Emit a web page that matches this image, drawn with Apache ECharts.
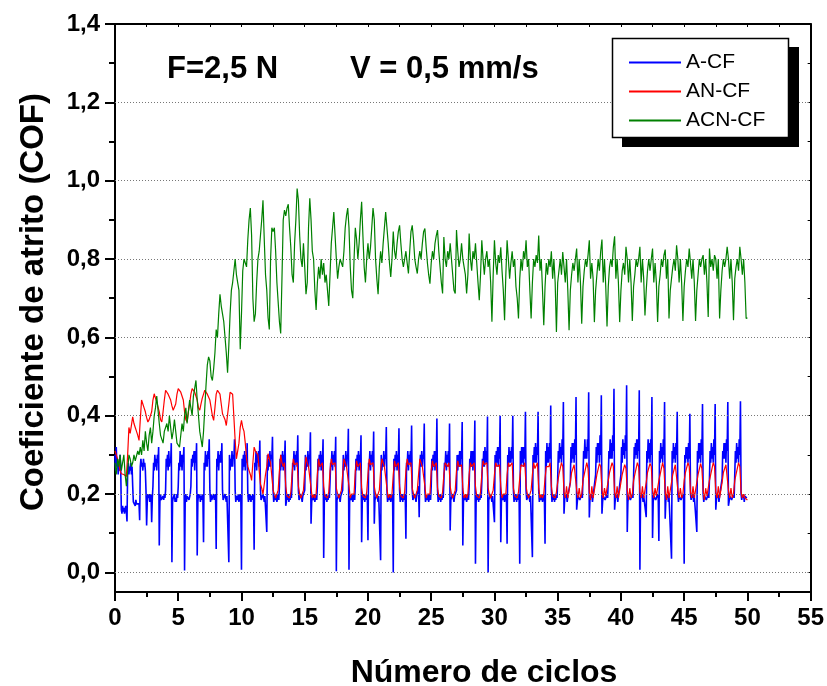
<!DOCTYPE html>
<html><head><meta charset="utf-8">
<script src="https://cdn.jsdelivr.net/npm/echarts@6/dist/echarts.min.js"></script>
<style>html,body{margin:0;padding:0;background:#fff}#c{width:827px;height:686px}</style>
</head><body><div id="c"></div>
<script>
const seriesNames = ['A-CF', 'AN-CF', 'ACN-CF'];
const yMajorTicks = [0, 0.2, 0.4, 0.6, 0.8, 1.0, 1.2, 1.4];
const yMinorTicks = [0.1, 0.3, 0.5, 0.7, 0.9, 1.1, 1.3];
const yAllTicks = [0, 0.1, 0.2, 0.3, 0.4, 0.5, 0.6, 0.7, 0.8, 0.9, 1.0, 1.1, 1.2, 1.3, 1.4];
const gridValues = [0, 0.2, 0.4, 0.6, 0.8, 1.0, 1.2];
const blueStep = 0.05;   // cycles between samples
const redStep = 0.1;
const greenStep = 0.1;

// A-CF (one row = one cycle, 20 samples)
const blueCOF = [
0.30,0.26,0.32,0.27,0.29,0.25,0.28,0.26,0.30,0.27,0.16,0.15,0.17,0.155,0.165,0.15,0.16,0.17,0.155,0.13,
0.26,0.28,0.25,0.27,0.26,0.28,0.25,0.27,0.22,0.18,0.175,0.18,0.17,0.185,0.175,0.18,0.17,0.18,0.175,0.133,
0.27,0.29,0.27,0.28,0.26,0.29,0.27,0.28,0.26,0.21,0.12,0.18,0.20,0.19,0.20,0.18,0.19,0.20,0.128,0.19,
0.22,0.28,0.26,0.30,0.27,0.29,0.26,0.30,0.28,0.32,0.069,0.18,0.20,0.185,0.19,0.18,0.195,0.185,0.20,0.19,
0.21,0.29,0.27,0.30,0.26,0.31,0.27,0.29,0.28,0.33,0.026,0.18,0.19,0.185,0.20,0.18,0.19,0.18,0.20,0.19,
0.22,0.28,0.26,0.31,0.27,0.30,0.26,0.30,0.29,0.32,0.005,0.185,0.20,0.18,0.195,0.19,0.20,0.185,0.19,0.20,
0.22,0.29,0.27,0.30,0.28,0.31,0.26,0.31,0.28,0.33,0.043,0.18,0.20,0.19,0.20,0.18,0.195,0.185,0.20,0.19,
0.077,0.28,0.26,0.31,0.27,0.30,0.27,0.31,0.29,0.34,0.21,0.18,0.20,0.185,0.19,0.18,0.20,0.185,0.19,0.20,
0.06,0.29,0.27,0.31,0.26,0.30,0.28,0.31,0.28,0.33,0.21,0.185,0.19,0.18,0.20,0.19,0.18,0.195,0.19,0.20,
0.026,0.30,0.26,0.29,0.27,0.31,0.27,0.30,0.29,0.34,0.21,0.18,0.195,0.19,0.185,0.20,0.18,0.19,0.20,0.185,
0.007,0.29,0.26,0.30,0.27,0.31,0.26,0.30,0.28,0.33,0.20,0.18,0.20,0.185,0.20,0.18,0.195,0.185,0.20,0.19,
0.058,0.28,0.27,0.31,0.26,0.30,0.28,0.31,0.27,0.337,0.21,0.185,0.19,0.18,0.20,0.19,0.18,0.195,0.19,0.20,
0.103,0.30,0.26,0.29,0.27,0.31,0.27,0.30,0.29,0.346,0.21,0.18,0.195,0.19,0.185,0.20,0.18,0.19,0.20,0.185,
0.22,0.29,0.26,0.30,0.27,0.31,0.26,0.30,0.28,0.337,0.17,0.18,0.20,0.185,0.20,0.18,0.195,0.185,0.20,0.19,
0.23,0.28,0.27,0.31,0.26,0.30,0.28,0.31,0.27,0.35,0.21,0.185,0.19,0.18,0.20,0.19,0.18,0.195,0.19,0.20,
0.21,0.30,0.26,0.29,0.27,0.31,0.27,0.30,0.29,0.358,0.124,0.18,0.195,0.19,0.185,0.20,0.18,0.19,0.20,0.185,
0.22,0.29,0.26,0.30,0.27,0.31,0.26,0.30,0.28,0.34,0.037,0.18,0.20,0.185,0.20,0.18,0.195,0.185,0.20,0.19,
0.23,0.28,0.27,0.31,0.26,0.30,0.28,0.31,0.27,0.346,0.003,0.185,0.19,0.18,0.20,0.19,0.18,0.195,0.19,0.20,
0.21,0.30,0.26,0.29,0.27,0.31,0.27,0.30,0.29,0.367,0.007,0.18,0.195,0.19,0.185,0.20,0.18,0.19,0.20,0.185,
0.22,0.29,0.26,0.30,0.27,0.31,0.26,0.30,0.28,0.35,0.077,0.18,0.20,0.185,0.20,0.18,0.195,0.185,0.20,0.19,
0.082,0.28,0.27,0.31,0.26,0.30,0.28,0.31,0.27,0.36,0.124,0.185,0.19,0.18,0.20,0.19,0.18,0.195,0.19,0.20,
0.031,0.30,0.26,0.29,0.27,0.31,0.27,0.30,0.29,0.371,0.21,0.18,0.195,0.19,0.185,0.20,0.18,0.19,0.20,0.185,
0.0,0.29,0.26,0.30,0.27,0.31,0.26,0.30,0.28,0.368,0.21,0.18,0.20,0.185,0.20,0.18,0.195,0.185,0.20,0.19,
0.086,0.28,0.27,0.31,0.26,0.30,0.28,0.31,0.27,0.375,0.21,0.185,0.19,0.18,0.20,0.19,0.18,0.195,0.19,0.20,
0.22,0.141,0.27,0.30,0.27,0.31,0.27,0.30,0.29,0.38,0.21,0.18,0.195,0.19,0.185,0.20,0.18,0.19,0.20,0.185,
0.22,0.29,0.26,0.30,0.27,0.31,0.26,0.31,0.28,0.393,0.21,0.18,0.20,0.185,0.20,0.18,0.195,0.185,0.20,0.19,
0.23,0.28,0.27,0.31,0.26,0.30,0.28,0.31,0.27,0.38,0.107,0.185,0.19,0.18,0.20,0.19,0.18,0.195,0.19,0.20,
0.21,0.30,0.26,0.30,0.27,0.31,0.27,0.31,0.29,0.384,0.069,0.18,0.195,0.19,0.185,0.20,0.18,0.19,0.20,0.185,
0.22,0.29,0.27,0.31,0.27,0.31,0.26,0.31,0.28,0.388,0.022,0.18,0.20,0.185,0.20,0.18,0.195,0.185,0.20,0.19,
0.23,0.29,0.27,0.31,0.27,0.32,0.28,0.31,0.28,0.398,0.0,0.185,0.19,0.18,0.20,0.19,0.18,0.195,0.19,0.20,
0.128,0.30,0.27,0.31,0.28,0.32,0.27,0.32,0.29,0.40,0.077,0.18,0.195,0.19,0.185,0.20,0.18,0.19,0.20,0.185,
0.073,0.30,0.27,0.32,0.28,0.31,0.28,0.32,0.29,0.40,0.21,0.18,0.20,0.185,0.20,0.18,0.195,0.185,0.20,0.19,
0.022,0.31,0.27,0.32,0.28,0.32,0.27,0.32,0.29,0.41,0.21,0.185,0.19,0.18,0.20,0.19,0.18,0.195,0.19,0.20,
0.039,0.30,0.28,0.32,0.28,0.33,0.28,0.32,0.30,0.41,0.21,0.18,0.195,0.19,0.185,0.20,0.18,0.19,0.20,0.185,
0.073,0.31,0.27,0.33,0.28,0.32,0.28,0.33,0.29,0.426,0.21,0.18,0.20,0.185,0.20,0.18,0.195,0.185,0.20,0.19,
0.24,0.31,0.28,0.33,0.29,0.32,0.28,0.34,0.30,0.435,0.15,0.185,0.20,0.19,0.20,0.18,0.195,0.19,0.20,0.19,
0.23,0.32,0.28,0.33,0.29,0.33,0.28,0.34,0.30,0.448,0.16,0.18,0.195,0.19,0.20,0.185,0.19,0.18,0.20,0.19,
0.24,0.31,0.29,0.34,0.29,0.32,0.29,0.34,0.31,0.46,0.14,0.185,0.20,0.19,0.20,0.18,0.195,0.19,0.20,0.19,
0.25,0.32,0.28,0.33,0.30,0.33,0.28,0.35,0.30,0.452,0.15,0.18,0.195,0.19,0.20,0.185,0.19,0.18,0.20,0.19,
0.24,0.31,0.29,0.34,0.29,0.33,0.29,0.35,0.31,0.469,0.16,0.185,0.20,0.19,0.20,0.18,0.195,0.19,0.20,0.19,
0.25,0.32,0.28,0.34,0.30,0.33,0.29,0.35,0.31,0.478,0.103,0.18,0.195,0.19,0.20,0.185,0.19,0.18,0.20,0.19,
0.24,0.32,0.29,0.33,0.30,0.34,0.29,0.34,0.31,0.465,0.007,0.185,0.20,0.19,0.20,0.18,0.195,0.19,0.20,0.19,
0.141,0.31,0.28,0.34,0.29,0.33,0.28,0.34,0.30,0.448,0.088,0.18,0.195,0.19,0.20,0.185,0.19,0.18,0.20,0.19,
0.08,0.31,0.28,0.33,0.29,0.32,0.28,0.34,0.30,0.435,0.137,0.185,0.20,0.19,0.20,0.18,0.195,0.19,0.20,0.19,
0.035,0.31,0.28,0.33,0.29,0.32,0.28,0.33,0.30,0.41,0.20,0.18,0.195,0.19,0.20,0.185,0.19,0.18,0.20,0.19,
0.022,0.30,0.28,0.32,0.29,0.32,0.28,0.33,0.29,0.405,0.20,0.185,0.20,0.19,0.20,0.18,0.195,0.19,0.20,0.19,
0.103,0.31,0.28,0.33,0.29,0.33,0.28,0.34,0.30,0.43,0.20,0.18,0.195,0.19,0.20,0.185,0.19,0.18,0.20,0.19,
0.24,0.31,0.28,0.33,0.29,0.32,0.28,0.34,0.30,0.43,0.16,0.185,0.20,0.19,0.20,0.18,0.195,0.19,0.20,0.19,
0.24,0.31,0.29,0.33,0.29,0.33,0.28,0.34,0.31,0.435,0.17,0.18,0.195,0.19,0.20,0.185,0.19,0.18,0.20,0.19,
0.25,0.31,0.28,0.33,0.29,0.32,0.28,0.34,0.30,0.437,0.20,0.185,0.20,0.19,0.20,0.18,0.195,0.19,0.20,0.19,
0.19
];

// AN-CF (one row = one cycle, 10 samples)
const redCOF = [
0.31,0.30,0.29,0.28,0.26,0.252,0.25,0.25,0.245,0.245,
0.30,0.37,0.355,0.36,0.397,0.38,0.37,0.36,0.35,0.337,
0.39,0.44,0.43,0.42,0.41,0.395,0.384,0.39,0.395,0.41,
0.44,0.456,0.445,0.435,0.43,0.41,0.39,0.384,0.41,0.44,
0.465,0.46,0.455,0.455,0.44,0.425,0.414,0.414,0.43,0.455,
0.469,0.469,0.46,0.455,0.44,0.41,0.39,0.384,0.41,0.43,
0.455,0.469,0.465,0.46,0.46,0.44,0.42,0.414,0.43,0.445,
0.455,0.465,0.46,0.455,0.45,0.44,0.42,0.40,0.388,0.42,
0.455,0.465,0.46,0.455,0.43,0.405,0.40,0.39,0.375,0.37,
0.43,0.46,0.46,0.455,0.455,0.337,0.29,0.286,0.33,0.37,
0.388,0.37,0.36,0.33,0.29,0.27,0.26,0.25,0.235,0.28,
0.32,0.31,0.305,0.30,0.26,0.225,0.215,0.20,0.197,0.25,
0.27,0.303,0.29,0.28,0.275,0.21,0.20,0.19,0.20,0.21,
0.26,0.30,0.28,0.27,0.28,0.22,0.195,0.20,0.19,0.205,
0.25,0.29,0.275,0.27,0.28,0.22,0.20,0.19,0.195,0.21,
0.26,0.295,0.28,0.27,0.275,0.215,0.19,0.20,0.19,0.20,
0.25,0.29,0.27,0.275,0.28,0.22,0.195,0.20,0.19,0.205,
0.26,0.29,0.275,0.27,0.28,0.215,0.20,0.19,0.20,0.21,
0.25,0.29,0.28,0.27,0.275,0.22,0.19,0.20,0.195,0.20,
0.26,0.285,0.27,0.275,0.28,0.215,0.195,0.20,0.19,0.205,
0.25,0.29,0.275,0.27,0.28,0.22,0.20,0.19,0.20,0.21,
0.26,0.29,0.28,0.27,0.275,0.215,0.19,0.20,0.19,0.20,
0.25,0.285,0.27,0.275,0.28,0.22,0.195,0.20,0.19,0.205,
0.26,0.29,0.275,0.27,0.28,0.215,0.20,0.19,0.20,0.21,
0.25,0.29,0.28,0.27,0.275,0.22,0.19,0.20,0.195,0.20,
0.26,0.285,0.27,0.275,0.28,0.215,0.195,0.20,0.19,0.205,
0.25,0.28,0.275,0.27,0.28,0.22,0.20,0.19,0.20,0.21,
0.26,0.285,0.27,0.27,0.275,0.215,0.19,0.20,0.19,0.20,
0.25,0.28,0.27,0.275,0.28,0.22,0.195,0.20,0.19,0.205,
0.25,0.285,0.275,0.27,0.28,0.215,0.20,0.19,0.20,0.21,
0.25,0.28,0.27,0.27,0.275,0.22,0.19,0.20,0.195,0.20,
0.25,0.28,0.27,0.275,0.28,0.215,0.195,0.20,0.19,0.205,
0.24,0.275,0.27,0.27,0.28,0.22,0.20,0.19,0.20,0.21,
0.25,0.28,0.265,0.27,0.28,0.215,0.19,0.20,0.19,0.20,
0.24,0.27,0.265,0.27,0.28,0.22,0.195,0.20,0.19,0.205,
0.23,0.25,0.255,0.28,0.27,0.205,0.19,0.22,0.19,0.195,
0.23,0.255,0.25,0.275,0.27,0.21,0.19,0.215,0.19,0.20,
0.235,0.25,0.255,0.28,0.265,0.205,0.185,0.22,0.19,0.195,
0.23,0.25,0.25,0.278,0.27,0.21,0.19,0.215,0.195,0.20,
0.235,0.255,0.255,0.28,0.27,0.205,0.19,0.22,0.19,0.195,
0.23,0.25,0.25,0.275,0.265,0.21,0.185,0.215,0.19,0.20,
0.235,0.25,0.255,0.28,0.27,0.205,0.19,0.22,0.19,0.195,
0.23,0.255,0.25,0.278,0.27,0.21,0.19,0.215,0.195,0.20,
0.235,0.25,0.255,0.28,0.265,0.205,0.185,0.22,0.19,0.195,
0.23,0.25,0.25,0.275,0.27,0.21,0.19,0.215,0.19,0.20,
0.235,0.255,0.255,0.28,0.27,0.205,0.19,0.22,0.19,0.195,
0.23,0.25,0.25,0.278,0.265,0.21,0.185,0.215,0.195,0.20,
0.235,0.25,0.255,0.28,0.27,0.205,0.19,0.22,0.19,0.195,
0.23,0.255,0.25,0.275,0.27,0.21,0.19,0.215,0.19,0.20,
0.235,0.25,0.255,0.28,0.27,0.205,0.19,0.20,0.19,0.19,
0.185
];

// ACN-CF (one row = one cycle, 10 samples)
const greenCOF = [
0.28,0.25,0.29,0.27,0.30,0.26,0.28,0.30,0.25,0.22,
0.26,0.30,0.29,0.27,0.28,0.30,0.285,0.29,0.31,0.30,
0.32,0.30,0.337,0.31,0.36,0.33,0.31,0.35,0.37,0.33,
0.36,0.40,0.42,0.45,0.448,0.38,0.35,0.346,0.33,0.36,
0.37,0.38,0.36,0.40,0.37,0.34,0.36,0.39,0.36,0.33,
0.33,0.32,0.35,0.38,0.36,0.40,0.42,0.38,0.41,0.44,
0.42,0.40,0.45,0.47,0.49,0.44,0.40,0.36,0.34,0.32,
0.36,0.42,0.48,0.53,0.55,0.54,0.50,0.49,0.52,0.56,
0.62,0.60,0.66,0.71,0.68,0.66,0.64,0.60,0.56,0.51,
0.58,0.66,0.72,0.74,0.77,0.80,0.76,0.74,0.72,0.57,
0.66,0.77,0.80,0.80,0.78,0.85,0.90,0.93,0.86,0.70,
0.64,0.66,0.74,0.80,0.82,0.86,0.90,0.95,0.85,0.76,
0.72,0.65,0.62,0.80,0.88,0.87,0.88,0.82,0.74,0.69,
0.64,0.61,0.75,0.90,0.925,0.91,0.93,0.94,0.88,0.83,
0.76,0.74,0.84,0.90,0.98,0.95,0.86,0.80,0.78,0.84,
0.78,0.71,0.74,0.88,0.955,0.90,0.82,0.80,0.72,0.67,
0.74,0.78,0.75,0.80,0.76,0.79,0.74,0.76,0.72,0.68,
0.76,0.84,0.88,0.92,0.925,0.80,0.75,0.78,0.80,0.80,
0.78,0.82,0.88,0.91,0.93,0.88,0.78,0.72,0.70,0.80,
0.88,0.85,0.80,0.84,0.90,0.946,0.86,0.78,0.74,0.80,
0.84,0.80,0.83,0.88,0.93,0.90,0.80,0.75,0.71,0.78,
0.82,0.79,0.84,0.88,0.92,0.925,0.84,0.79,0.754,0.80,
0.87,0.82,0.80,0.84,0.87,0.886,0.84,0.80,0.78,0.80,
0.82,0.79,0.763,0.82,0.87,0.886,0.85,0.80,0.78,0.763,
0.80,0.82,0.80,0.84,0.87,0.878,0.83,0.79,0.76,0.737,
0.79,0.82,0.80,0.84,0.86,0.874,0.82,0.78,0.74,0.712,
0.856,0.80,0.78,0.82,0.80,0.84,0.80,0.76,0.72,0.712,
0.874,0.82,0.78,0.80,0.84,0.80,0.78,0.76,0.712,0.76,
0.865,0.80,0.77,0.82,0.80,0.84,0.79,0.74,0.695,0.76,
0.848,0.80,0.76,0.80,0.82,0.78,0.80,0.74,0.64,0.76,
0.848,0.79,0.76,0.81,0.79,0.83,0.77,0.72,0.644,0.76,
0.848,0.80,0.75,0.79,0.82,0.78,0.80,0.73,0.70,0.648,
0.75,0.80,0.77,0.82,0.80,0.848,0.78,0.80,0.72,0.648,
0.74,0.80,0.78,0.81,0.79,0.86,0.77,0.80,0.72,0.631,
0.73,0.79,0.76,0.80,0.78,0.82,0.75,0.80,0.74,0.614,
0.74,0.77,0.80,0.76,0.818,0.78,0.74,0.80,0.72,0.618,
0.72,0.76,0.79,0.77,0.80,0.827,0.74,0.80,0.74,0.635,
0.73,0.77,0.80,0.78,0.81,0.848,0.75,0.79,0.75,0.639,
0.72,0.76,0.80,0.77,0.82,0.85,0.74,0.80,0.73,0.628,
0.73,0.78,0.80,0.78,0.83,0.858,0.75,0.80,0.74,0.639,
0.72,0.77,0.79,0.76,0.831,0.80,0.74,0.80,0.74,0.642,
0.73,0.76,0.80,0.78,0.80,0.831,0.74,0.80,0.75,0.656,
0.72,0.77,0.80,0.77,0.80,0.827,0.74,0.79,0.74,0.639,
0.73,0.76,0.80,0.78,0.81,0.824,0.75,0.80,0.648,0.72,
0.75,0.78,0.80,0.77,0.835,0.80,0.74,0.80,0.74,0.642,
0.73,0.77,0.80,0.78,0.827,0.79,0.75,0.80,0.74,0.642,
0.72,0.76,0.80,0.78,0.80,0.81,0.76,0.80,0.74,0.652,
0.827,0.78,0.80,0.77,0.81,0.80,0.75,0.80,0.648,0.72,
0.77,0.80,0.78,0.80,0.831,0.80,0.75,0.80,0.74,0.644,
0.75,0.78,0.80,0.77,0.831,0.80,0.76,0.80,0.74,0.648,
0.65
];

function toPoints(values, step) {
  return values.map((v, i) => [+(i * step).toFixed(3), v]);
}
const FONT = '"Liberation Sans", Arial, Helvetica, sans-serif';
const fmt = v => (Math.round(v * 10) / 10).toFixed(1).replace('.', ',');

const chart = echarts.init(document.getElementById('c'), null, {renderer: 'canvas'});
chart.setOption({
  animation: false,
  backgroundColor: '#fff',
  grid: {left: 115, top: 24, width: 700, height: 568, containLabel: false},
  xAxis: [
    {type: 'value', position: 'bottom', min: 0, max: 55, interval: 5,
     axisLine: {show: true, onZero: false, lineStyle: {color: '#000', width: 2}},
     axisTick: {show: true, inside: false, length: 9, lineStyle: {color: '#000', width: 2}},
     minorTick: {show: true, splitNumber: 2, length: 5, lineStyle: {color: '#000', width: 2}},
     axisLabel: {show: true, margin: 14, color: '#000', fontSize: 24, fontWeight: 'bold', fontFamily: FONT},
     splitLine: {show: false}},
    {type: 'value', position: 'top', min: 0, max: 55, interval: 2.5,
     axisLine: {show: true, onZero: false, lineStyle: {color: '#000', width: 2}},
     axisTick: {show: true, inside: true, length: 3, lineStyle: {color: '#000', width: 1}},
     axisLabel: {show: false}, splitLine: {show: false}}
  ],
  yAxis: [
    {type: 'value', position: 'left', min: -0.05, max: 1.4,
     axisLine: {show: true, onZero: false, lineStyle: {color: '#000', width: 2}},
     axisTick: {show: true, inside: false, length: 10, customValues: yMajorTicks, lineStyle: {color: '#000', width: 2}},
     axisLabel: {show: true, customValues: yMajorTicks, formatter: fmt, margin: 15, color: '#000', fontSize: 24, fontWeight: 'bold', fontFamily: FONT},
     splitLine: {show: false}},
    {type: 'value', position: 'left', offset: 0, min: -0.05, max: 1.4,
     axisLine: {show: false},
     axisTick: {show: true, inside: false, length: 6, customValues: yMinorTicks, lineStyle: {color: '#000', width: 2}},
     axisLabel: {show: false}, splitLine: {show: false}},
    {type: 'value', position: 'right', offset: 0, min: -0.05, max: 1.4,
     axisLine: {show: true, onZero: false, lineStyle: {color: '#000', width: 2}},
     axisTick: {show: true, inside: true, length: 3, customValues: yAllTicks, lineStyle: {color: '#000', width: 1}},
     axisLabel: {show: false}, splitLine: {show: false}}
  ],
  legend: {
    show: true, data: seriesNames, orient: 'vertical', left: 624, top: 47,
    icon: 'rect', itemWidth: 52, itemHeight: 2, itemGap: 8,
    textStyle: {color: '#000', fontSize: 21, fontFamily: FONT},
    selectedMode: false, z: 10
  },
  graphic: [
    {type: 'rect', z: 8, shape: {x: 622, y: 47, width: 177, height: 100}, style: {fill: '#000'}},
    {type: 'rect', z: 9, shape: {x: 612.5, y: 38.5, width: 176, height: 99}, style: {fill: '#fff', stroke: '#000', lineWidth: 1.5}},
    {type: 'text', z: 9, x: 167, y: 69, style: {text: 'F=2,5 N', fill: '#000', font: 'bold 31px ' + FONT, textVerticalAlign: 'middle'}},
    {type: 'text', z: 9, x: 350, y: 69, style: {text: 'V = 0,5 mm/s', fill: '#000', font: 'bold 31px ' + FONT, textVerticalAlign: 'middle'}},
    {type: 'text', z: 9, x: 484, y: 673, style: {text: 'Número de ciclos', fill: '#000', font: 'bold 32px ' + FONT, textAlign: 'center', textVerticalAlign: 'middle'}},
    {type: 'text', z: 9, x: 34, y: 302, rotation: Math.PI / 2, style: {text: 'Coeficiente de atrito (COF)', fill: '#000', font: 'bold 33px ' + FONT, textAlign: 'center', textVerticalAlign: 'middle'}}
  ],
  series: [
    {name: 'grid', type: 'line', data: [], z: 1, silent: true,
     markLine: {silent: true, symbol: ['none', 'none'], label: {show: false},
       lineStyle: {color: '#777', width: 1, type: [1, 2]},
       data: gridValues.map(v => ({yAxis: v}))}},
    {name: seriesNames[0], type: 'line', data: toPoints(blueCOF, blueStep), showSymbol: false, symbol: 'none',
     lineStyle: {color: '#0000ff', width: 1.6}, itemStyle: {color: '#0000ff'}, z: 3},
    {name: seriesNames[1], type: 'line', data: toPoints(redCOF, redStep), showSymbol: false, symbol: 'none',
     lineStyle: {color: '#ff0000', width: 1.2}, itemStyle: {color: '#ff0000'}, z: 4},
    {name: seriesNames[2], type: 'line', data: toPoints(greenCOF, greenStep), showSymbol: false, symbol: 'none',
     lineStyle: {color: '#008000', width: 1.2}, itemStyle: {color: '#008000'}, z: 5}
  ]
});
</script></body></html>
